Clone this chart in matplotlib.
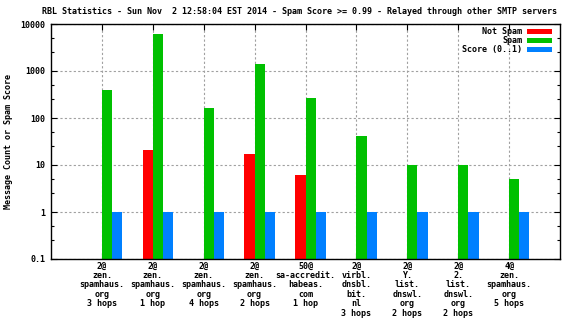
import numpy as np
import matplotlib
matplotlib.use('Agg')
import matplotlib.pyplot as plt
from matplotlib.ticker import FixedLocator, NullFormatter


TITLE = ('RBL Statistics - Sun Nov  2 12:58:04 EST 2014 - '
         'Spam Score >= 0.99 - Relayed through other SMTP servers')
LABELS = [
    '2@\nzen.\nspamhaus.\norg\n3 hops',
    '2@\nzen.\nspamhaus.\norg\n1 hop',
    '2@\nzen.\nspamhaus.\norg\n4 hops',
    '2@\nzen.\nspamhaus.\norg\n2 hops',
    '50@\nsa-accredit.\nhabeas.\ncom\n1 hop',
    '2@\nvirbl.\ndnsbl.\nbit.\nnl\n3 hops',
    '2@\nY.\nlist.\ndnswl.\norg\n2 hops',
    '2@\n2.\nlist.\ndnswl.\norg\n2 hops',
    '4@\nzen.\nspamhaus.\norg\n5 hops',
]
not_spam = [np.nan, 21, np.nan, 17, 6.2, np.nan, np.nan, np.nan, np.nan]
spam = [395, 6100, 163, 1410, 268, 41, 10, 10, 5]
score = [1, 1, 1, 1, 1, 1, 1, 1, 1]

FONT = 'DejaVu Sans Mono'
FS = 6.0

fig = plt.figure(figsize=(5.76, 3.24), dpi=100)
ax = fig.add_axes([51 / 576, 65 / 324, 509 / 576, 235 / 324])

x = np.arange(1, len(LABELS) + 1)
w = 0.2
ax.bar(x - w, not_spam, w, align='edge', color='#ff0000', label='Not Spam')
ax.bar(x, spam, w, align='edge', color='#00c000', label='Spam')
ax.bar(x + w, score, w, align='edge', color='#0080ff', label='Score (0..1)')

ax.set_yscale('log')
ax.set_ylim(0.1, 10000)
ax.set_xlim(0, 10)

yt = [0.1, 1, 10, 100, 1000, 10000]
ax.yaxis.set_major_locator(FixedLocator(yt))
ax.set_yticklabels(['0.1', '1', '10', '100', '1000', '10000'],
                   fontfamily=FONT, fontsize=FS, fontweight='bold')
minor = [d * m for d in [0.1, 1, 10, 100, 1000] for m in (2.5, 5)]
ax.yaxis.set_minor_locator(FixedLocator(minor))
ax.yaxis.set_minor_formatter(NullFormatter())

ax.set_xticks(x)
ax.set_xticklabels(LABELS, fontfamily=FONT, fontsize=FS, linespacing=1.05,
                   va='top', fontweight='bold')

ax.tick_params(axis='both', which='major', direction='in', length=4,
               width=0.8, top=True, right=True, pad=4)
ax.tick_params(axis='y', which='minor', direction='in', length=2.5,
               width=0.8, right=True)
ax.tick_params(axis='x', pad=2)

ax.grid(True, which='major', color='#a0a0a0', linestyle=(0, (2, 2)),
        linewidth=0.8)
ax.set_axisbelow(True)
for s in ax.spines.values():
    s.set_linewidth(1.0)
    s.set_color('black')

ax.set_ylabel('Message Count or Spam Score', fontfamily=FONT, fontsize=FS,
              fontweight='bold', va='center')
ax.yaxis.set_label_coords(-0.083, 0.5)

fig.text(0.52, 1 - 12 / 324, TITLE, ha='center', va='center',
         fontfamily=FONT, fontsize=6.0, fontweight='bold')

leg = ax.legend(loc='upper right', frameon=False, markerfirst=False,
                prop={'family': FONT, 'size': FS, 'weight': 'bold'},
                handlelength=3.0, handleheight=0.5, labelspacing=0.0,
                handletextpad=0.5, borderaxespad=0.0,
                bbox_to_anchor=(0.99, 1.0))
for t in leg.get_texts():
    t.set_ha('right')

fig.savefig('out.png', dpi=100)
